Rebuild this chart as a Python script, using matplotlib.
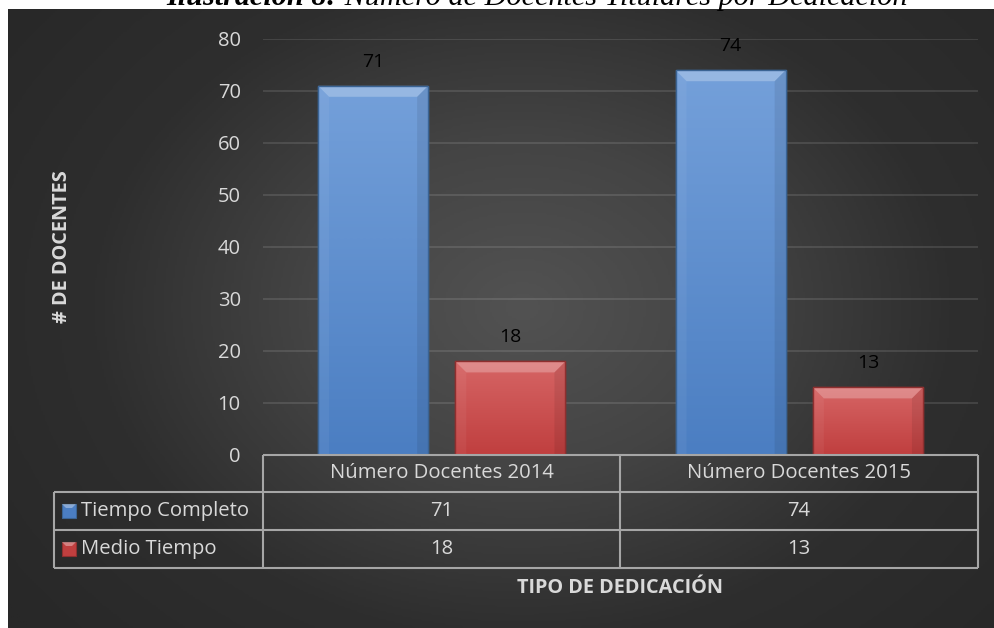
import numpy as np
import matplotlib
matplotlib.use("Agg")
import matplotlib.pyplot as plt
from matplotlib.patches import Polygon, Rectangle
from matplotlib.colors import LinearSegmentedColormap

# ---------------- data ----------------
categories = ["Número Docentes 2014", "Número Docentes 2015"]
series_names = ["Tiempo Completo", "Medio Tiempo"]
tiempo_completo = [71, 74]
medio_tiempo = [18, 13]
y_ticks = [0, 10, 20, 30, 40, 50, 60, 70, 80]
y_label = "# DE DOCENTES"
x_label = "TIPO DE DEDICACIÓN"
title_bold = "Ilustración 8:"
title_rest = " Número de Docentes Titulares por Dedicación"

series_values = [tiempo_completo, medio_tiempo]
series_colors = [("#74a0da", "#4b7ec2", "#3b6494"), ("#d66565", "#c03f3f", "#8e2f2f")]

FONT = "Open Sans"
TXT = "#d9d9d9"
LINE = "#a6a6a6"

W, H = 995, 628
fig = plt.figure(figsize=(W / 100, H / 100), dpi=100)
fig.patch.set_facecolor("white")

def fx(px):
    return px / W

def fy(py):
    return 1 - py / H

# ---------------- background (radial gradient) ----------------
bg = fig.add_axes([fx(8), 0, fx(987), 1 - 9 / H], zorder=0)
bg.set_axis_off()
ny, nx = 300, 480
yy, xx = np.mgrid[0:ny, 0:nx]
cx, cy = nx * 0.52, ny * 0.48
r = np.sqrt(((xx - cx) / (nx * 0.65)) ** 2 + ((yy - cy) / (ny * 0.8)) ** 2)
r = np.clip(r, 0, 1)
cmap_bg = LinearSegmentedColormap.from_list("bg", ["#525252", "#444444", "#2e2e2e", "#282828"])
bg.imshow(r, cmap=cmap_bg, aspect="auto", extent=[0, 1, 0, 1], vmin=0, vmax=1)

# ---------------- title (cut off at the top) ----------------
renderer = fig.canvas.get_renderer()
t1 = fig.text(fx(166), fy(5), title_bold, family="Liberation Serif", style="italic",
              weight="bold", fontsize=21.8, va="baseline", ha="left", color="black")
bb = t1.get_window_extent(renderer)
fig.text(bb.x1 / W, fy(5), title_rest, family="Liberation Serif", style="italic",
         fontsize=21.8, va="baseline", ha="left", color="black")

# ---------------- main axes ----------------
ax_left, ax_right, ax_top, ax_bot = 263, 978, 39, 455
ax = fig.add_axes([fx(ax_left), fy(ax_bot), fx(ax_right - ax_left), (ax_bot - ax_top) / H], zorder=2)
ax.set_facecolor("none")
ax.set_xlim(-0.5, 1.5)
ax.set_ylim(0, 80)
for s in ax.spines.values():
    s.set_visible(False)
ax.set_yticks(y_ticks)
ax.set_yticklabels([str(v) for v in y_ticks], family=FONT, fontsize=14.5, color=TXT)
ax.tick_params(axis="y", length=0, pad=16)
ax.set_xticks([])
for v in y_ticks[1:]:
    ax.axhline(v, color="white", alpha=0.11, lw=1.5, zorder=1)

bar_w = 0.308
offsets = [-0.192, 0.192]
x = np.arange(len(categories))
px_per_x = (ax_right - ax_left) / 2.0
px_per_y = (ax_bot - ax_top) / 80.0
bev_x = 11 / px_per_x
bev_y = 11 / px_per_y

for vals, off, (ctop, cbot, cedge) in zip(series_values, offsets, series_colors):
    bars = ax.bar(x + off, vals, width=bar_w, color=cbot, edgecolor=cedge, lw=1.0, zorder=3)
    cmap_bar = LinearSegmentedColormap.from_list("b", [ctop, cbot])
    for b, v in zip(bars, vals):
        x0, w, h = b.get_x(), b.get_width(), b.get_height()
        x1 = x0 + w
        grad = np.linspace(0, 1, 100).reshape(-1, 1)
        im = ax.imshow(grad, cmap=cmap_bar, aspect="auto", extent=[x0, x1, 0, h],
                       origin="upper", zorder=3.1, interpolation="bilinear")
        im.set_clip_path(b)
        bx, by = min(bev_x, w / 4), min(bev_y, h / 4)
        # top bevel (light)
        ax.add_patch(Polygon([[x0, h], [x1, h], [x1 - bx, h - by], [x0 + bx, h - by]],
                             closed=True, facecolor="white", alpha=0.25, lw=0, zorder=3.2))
        # side bevels
        ax.add_patch(Polygon([[x0, 0], [x0, h], [x0 + bx, h - by], [x0 + bx, 0]],
                             closed=True, facecolor="white", alpha=0.05, lw=0, zorder=3.2))
        ax.add_patch(Polygon([[x1, 0], [x1, h], [x1 - bx, h - by], [x1 - bx, 0]],
                             closed=True, facecolor="black", alpha=0.08, lw=0, zorder=3.2))
        ax.add_patch(Rectangle((x0, 0), w, h, facecolor="none", edgecolor=cedge, lw=1.0, zorder=3.3))
        ax.text(x0 + w / 2, h + 24 / px_per_y, str(v), ha="center", va="center",
                family=FONT, fontsize=14, color="black", zorder=4)

# ---------------- data table ----------------
ov = fig.add_axes([0, 0, 1, 1], zorder=3)
ov.set_axis_off()
ov.set_xlim(0, W)
ov.set_ylim(H, 0)
row_y = [455, 492, 530, 568]
col_x = [54, 263, 620, 978]
lk = dict(color=LINE, lw=1.5, solid_capstyle="butt")
ov.plot([col_x[1], col_x[3]], [row_y[0], row_y[0]], **lk)
for yv in row_y[1:]:
    ov.plot([col_x[0], col_x[3]], [yv, yv], **lk)
for xv in col_x[1:]:
    ov.plot([xv, xv], [row_y[0], row_y[3]], **lk)
ov.plot([col_x[0], col_x[0]], [row_y[1], row_y[3]], **lk)

TFS = 14.6
for i, cat in enumerate(categories):
    ov.text((col_x[i + 1] + col_x[i + 2]) / 2, (row_y[0] + row_y[1]) / 2, cat,
            ha="center", va="center", family=FONT, fontsize=TFS, color=TXT)
for j, (name, vals, (ctop, cbot, cedge)) in enumerate(zip(series_names, series_values, series_colors)):
    yc = (row_y[j + 1] + row_y[j + 2]) / 2
    ov.add_patch(Rectangle((62, yc - 7), 14, 14, facecolor=cbot, edgecolor=cedge, lw=0.8))
    ov.add_patch(Polygon([[62, yc - 7], [76, yc - 7], [72, yc - 3], [66, yc - 3]],
                         closed=True, facecolor="white", alpha=0.35, lw=0))
    ov.text(81, yc, name, ha="left", va="center", family=FONT, fontsize=TFS, color=TXT)
    for i, v in enumerate(vals):
        ov.text((col_x[i + 1] + col_x[i + 2]) / 2, yc, str(v), ha="center", va="center",
                family=FONT, fontsize=TFS, color=TXT)

# ---------------- axis titles ----------------
ov.text(62, 247, y_label, rotation=90, ha="center", va="center", family=FONT,
        fontsize=14.3, weight="bold", color=TXT)
ov.text(620, 588, x_label, ha="center", va="center", family=FONT,
        fontsize=14.3, weight="bold", color=TXT)

fig.savefig("out.png", dpi=100)
